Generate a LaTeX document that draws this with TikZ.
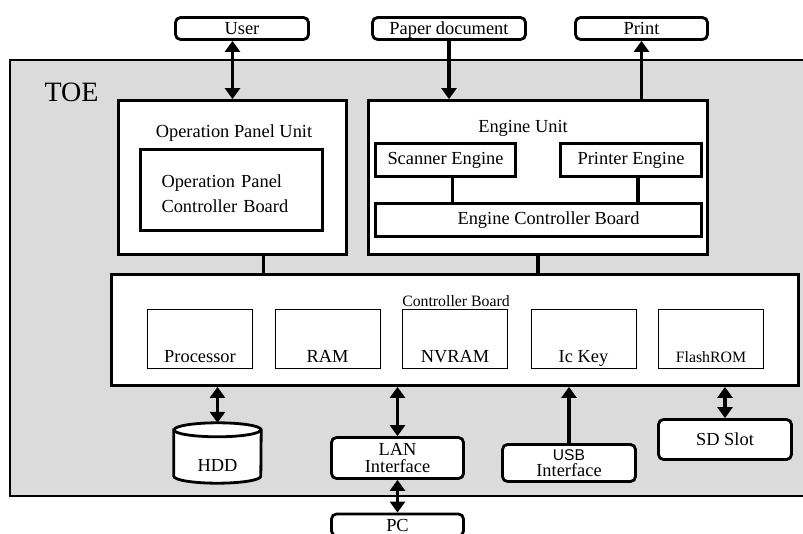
\documentclass[tikz,border=0pt]{standalone}
\usepackage{fontspec}
\setmainfont{Liberation Serif}
\newfontfamily\arialfont{Liberation Sans}
\usetikzlibrary{arrows.meta}
\definecolor{toegray}{gray}{0.86}
\newcommand{\txtn}{\fontsize{18.4}{20}\selectfont}
\newcommand{\txts}{\fontsize{15.8}{18}\selectfont}
\tikzset{
  extbox/.style={draw,line width=2.8pt,rounded corners=5pt,fill=white,inner sep=0pt,font=\txtn},
  topbox/.style={extbox,minimum height=22pt,text height=15pt,text depth=2pt},
  unitbox/.style={draw,line width=2.8pt,fill=white,inner sep=0pt,font=\txtn},
  membox/.style={draw,line width=0.9pt,fill=white,minimum width=105pt,minimum height=59pt,inner sep=0pt},
  wire/.style={line width=3.2pt},
}

\begin{document}
\begin{tikzpicture}[x=1pt,y=-1pt,>={Triangle[length=11pt,width=15pt]}]
  \useasboundingbox (0,0) rectangle (803,534);
  % TOE boundary
  \draw[fill=toegray,line width=1.5pt] (10,60) rectangle (812,496);
  \node[font=\fontsize{28}{30}\selectfont,inner sep=0pt] (toe) at (71.5,92) {TOE};

  % outside entities
  \node[topbox,minimum width=133pt] (user)  at (242,28.5)   {User};
  \node[topbox,minimum width=153pt] (paper) at (449,28.5)   {Paper document};
  \node[topbox,minimum width=132pt] (print) at (641.5,28.5) {Print};

  % operation panel
  \node[unitbox,minimum width=228pt,minimum height=154pt] (opunit) at (232.5,177.5) {};
    \node[font=\txtn,inner sep=0pt] (opunit-txt) at (234,133) {Operation Panel Unit};
  \node[unitbox,minimum width=182pt,minimum height=81pt] (opboard) at (231.5,190) {};
    \node[align=left,text width=140pt,inner sep=0pt,font=\fontsize{18.4}{25}\selectfont]
        (opboard-txt) at (231.5,194) {Operation Panel\\Controller Board};

  % engine
  \node[unitbox,minimum width=339pt,minimum height=154pt] (engunit) at (538,177.5) {};
    \node[font=\txtn,inner sep=0pt] (engunit-txt) at (523,128) {Engine Unit};
  \node[unitbox,minimum width=140pt,minimum height=33pt] (scanner) at (445.5,160) {Scanner Engine};
  \node[unitbox,minimum width=141pt,minimum height=33pt] (printer) at (631,160)   {Printer Engine};
  \node[unitbox,minimum width=326pt,minimum height=33pt] (ecb)     at (538.5,220) {\hspace{20pt}Engine Controller Board};

  % controller board
  \node[unitbox,minimum width=687pt,minimum height=111pt] (cboard) at (455,330) {};
    \node[font=\txts,inner sep=0pt] (cboard-txt) at (456,301) {Controller Board};
  \foreach \nm/\cx/\lbl in {proc/200/Processor,ram/327.5/RAM,nvram/455/NVRAM,
                             ickey/583.5/Ic Key,flash/711/{\txts FlashROM}} {
    \node[membox] (\nm) at (\cx,339) {};
    \node[font=\txtn,anchor=base,inner sep=0pt] (\nm-txt) at ([yshift=6pt]\nm.south) {\lbl};
  }

  % devices below
  \node[minimum width=87pt,minimum height=60pt,inner sep=0pt] (hdd) at (217.5,453) {};
  \draw[line width=2.8pt,fill=white]
    ([yshift=-7pt]hdd.north west) -- ([yshift=7pt]hdd.south west)
      arc[start angle=180,end angle=360,x radius=43.5pt,y radius=7pt]
      -- ([yshift=-7pt]hdd.north east)
      arc[start angle=0,end angle=180,x radius=43.5pt,y radius=7pt] -- cycle;
  \draw[line width=2.8pt] ([yshift=-7pt]hdd.north west)
      arc[start angle=180,end angle=360,x radius=43.5pt,y radius=7pt];
    \node[font=\txtn,anchor=base,inner sep=0pt] (hdd-txt) at (217.5,471) {HDD};
  \node[extbox,minimum width=132pt,minimum height=41pt,align=center,
        font=\fontsize{18.4}{17}\selectfont] (lan) at (397.5,458) {LAN\\Interface};
  \node[topbox,minimum width=132pt] (pc) at (397.5,525) {PC};
  \node[extbox,minimum width=133pt,minimum height=37pt,align=center,
        font=\fontsize{18.4}{16.5}\selectfont] (usb) at (569,463) {{\arialfont\fontsize{15.6}{16.5}\selectfont USB}\\Interface};
  \node[extbox,minimum width=133pt,minimum height=40pt] (sd) at (725,439.5) {SD Slot\hspace{20pt}};

  % connectors
  \draw[wire,<->] (user.south -| opunit.north) -- (opunit.north);
  \draw[wire,->] (paper.south) -- (paper.south |- engunit.north);
  \draw[wire,->] (print.south |- engunit.north) -- (print.south);
  \draw[wire] ([xshift=31pt]opunit.south) -- ([xshift=31pt]opunit.south |- cboard.north);
  \draw[wire] (engunit.south) -- (engunit.south |- cboard.north);
  \draw[wire] ([xshift=7pt]scanner.south) -- ([xshift=7pt]scanner.south |- ecb.north);
  \draw[wire] ([xshift=7pt]printer.south) -- ([xshift=7pt]printer.south |- ecb.north);
  \draw[wire,<->] (hdd.north |- cboard.south) -- (hdd.north);
  \draw[wire,<->] (lan.north |- cboard.south) -- (lan.north);
  \draw[wire,<->] (lan.south) -- (pc.north);
  \draw[wire,->] (usb.north) -- (usb.north |- cboard.south);
  \draw[wire,<->] (sd.north |- cboard.south) -- (sd.north);
\end{tikzpicture}
\end{document}
